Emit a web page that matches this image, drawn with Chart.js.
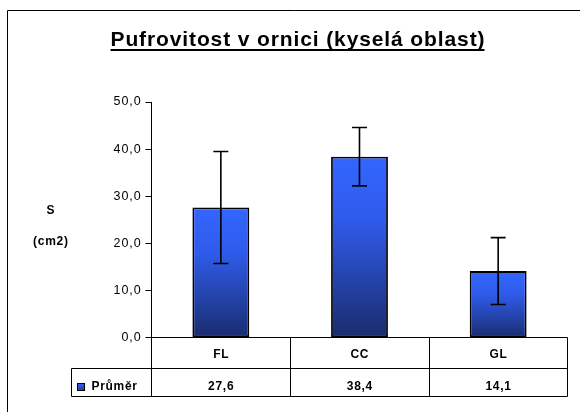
<!DOCTYPE html>
<html>
<head>
<meta charset="utf-8">
<script src="https://cdn.jsdelivr.net/npm/chart.js@4.4.1/dist/chart.umd.min.js"></script>
<style>
  html, body { margin: 0; padding: 0; background: #fff; }
  #wrap { width: 580px; height: 412px; position: relative; }
</style>
</head>
<body>
<div id="wrap"><canvas id="c" width="580" height="412"></canvas></div>
<script>
const titleText = "Pufrovitost v ornici (kyselá oblast)";
const yTitleLines = ["S", "(cm2)"];
const categories = ["FL", "CC", "GL"];
const seriesName = "Průměr";
const means = [27.6, 38.4, 14.1];
const errPlus = [11.9, 6.2, 7.1];
const errMinus = [11.9, 6.2, 7.1];
const yTicks = [0, 10, 20, 30, 40, 50];

const FONT = "'Liberation Sans', Arial, sans-serif";
const fmt = v => v.toFixed(1).replace('.', ',');

function setLS(ctx, v) { try { ctx.letterSpacing = v + 'px'; } catch (e) {} }

const spacing = {
  id: 'spacing',
  beforeDraw(chart) { setLS(chart.ctx, 0.9); }
};

const decor = {
  id: 'decor',
  afterDraw(chart) {
    const ctx = chart.ctx;
    const x = chart.scales.x, y = chart.scales.y;
    const area = chart.chartArea;
    ctx.save();
    // outer frame
    ctx.strokeStyle = '#000';
    ctx.lineWidth = 1;
    ctx.beginPath();
    ctx.moveTo(7.5, 420); ctx.lineTo(7.5, 10.5); ctx.lineTo(590, 10.5);
    ctx.stroke();

    // title
    ctx.font = "bold 21px " + FONT;
    ctx.fillStyle = '#000';
    ctx.textBaseline = 'alphabetic';
    ctx.textAlign = 'left';
    setLS(ctx, 0);
    const targetW = 374;
    const w0 = ctx.measureText(titleText).width;
    const ls = (targetW - w0) / (titleText.length - 1);
    setLS(ctx, ls);
    const tx = 110.5;
    ctx.fillText(titleText, tx, 45.7);
    setLS(ctx, 0);
    ctx.lineWidth = 2;
    ctx.beginPath();
    ctx.moveTo(tx, 50); ctx.lineTo(tx + targetW, 50);
    ctx.stroke();

    const LS = 0.7;
    ctx.font = "bold 12px " + FONT;
    ctx.textAlign = 'left';
    ctx.textBaseline = 'middle';
    setLS(ctx, LS);
    const centered = (t, cx, ty) => {
      const w = ctx.measureText(t).width - LS;
      ctx.fillText(t, cx - w / 2, ty);
    };

    // y axis title (horizontal)
    centered(yTitleLines[0], 50.5, 211);
    centered(yTitleLines[1], 50.5, 242);

    // error bars
    const meta = chart.getDatasetMeta(0);
    ctx.lineWidth = 1.6;
    ctx.strokeStyle = '#000';
    meta.data.forEach((bar, i) => {
      const cx = bar.x;
      const yHi = y.getPixelForValue(means[i] + errPlus[i]);
      const yLo = y.getPixelForValue(means[i] - errMinus[i]);
      const cap = 7.5;
      ctx.beginPath();
      ctx.moveTo(cx, yHi); ctx.lineTo(cx, yLo);
      ctx.moveTo(cx - cap, yHi); ctx.lineTo(cx + cap, yHi);
      ctx.moveTo(cx - cap, yLo); ctx.lineTo(cx + cap, yLo);
      ctx.stroke();
    });

    // data table
    const y0 = y.getPixelForValue(0);
    const rowMid = 368.5, rowBot = 396.5;
    const legLeft = 71.5;
    ctx.lineWidth = 1;
    ctx.strokeStyle = '#000';
    ctx.beginPath();
    ctx.moveTo(area.left, y0); ctx.lineTo(area.right, y0);
    ctx.moveTo(legLeft, rowMid); ctx.lineTo(area.right, rowMid);
    ctx.moveTo(legLeft, rowBot); ctx.lineTo(area.right, rowBot);
    ctx.moveTo(legLeft, rowMid); ctx.lineTo(legLeft, rowBot);
    ctx.moveTo(area.left, y0); ctx.lineTo(area.left, rowBot);
    ctx.moveTo(area.right, y0); ctx.lineTo(area.right, rowBot);
    const n = categories.length;
    for (let i = 1; i < n; i++) {
      const bx = Math.round((x.getPixelForValue(i - 1) + x.getPixelForValue(i)) / 2) + 0.5;
      ctx.moveTo(bx, y0); ctx.lineTo(bx, rowBot);
    }
    ctx.stroke();

    categories.forEach((c, i) => {
      const cx = x.getPixelForValue(i);
      centered(c, cx, 355);
      centered(fmt(means[i]), cx, 387);
    });

    // legend key
    const g = ctx.createLinearGradient(0, 383, 0, 391);
    g.addColorStop(0, '#3366ff');
    g.addColorStop(1, '#1f3a9a');
    ctx.fillStyle = g;
    ctx.fillRect(77.5, 383.5, 7, 7);
    ctx.strokeStyle = '#000';
    ctx.lineWidth = 1;
    ctx.strokeRect(77.5, 383.5, 7, 7);
    ctx.fillStyle = '#000';
    ctx.fillText(seriesName, 91.5, 387);
    ctx.restore();
  }
};

function barGradient(context) {
  const chart = context.chart;
  const y = chart.scales.y;
  if (!y || context.dataIndex === undefined) return '#2a55e0';
  const top = y.getPixelForValue(means[context.dataIndex]);
  const base = y.getPixelForValue(0);
  if (!isFinite(top) || !isFinite(base)) return '#2a55e0';
  const g = chart.ctx.createLinearGradient(0, top, 0, base);
  g.addColorStop(0, '#3366ff');
  g.addColorStop(0.35, '#2f5bea');
  g.addColorStop(1, '#1a2c6e');
  return g;
}

new Chart(document.getElementById('c'), {
  type: 'bar',
  data: {
    labels: categories,
    datasets: [{
      label: seriesName,
      data: means,
      backgroundColor: barGradient,
      borderColor: '#000',
      borderWidth: 1.8,
      borderSkipped: false,
      barPercentage: 0.41,
      categoryPercentage: 1.0
    }]
  },
  options: {
    responsive: false,
    animation: false,
    devicePixelRatio: 1,
    layout: { padding: { left: 0, right: 12.5, top: 102, bottom: 74.5 } },
    plugins: { legend: { display: false }, title: { display: false }, tooltip: { enabled: false } },
    scales: {
      x: {
        display: false,
        offset: true,
        grid: { display: false }
      },
      y: {
        min: 0, max: 50,
        afterFit: s => { s.width = 151.5; },
        afterBuildTicks: s => { s.ticks = yTicks.map(v => ({ value: v })); },
        ticks: {
          callback: v => fmt(v),
          color: '#000',
          font: { family: FONT, size: 12.5 },
          padding: 4
        },
        grid: { drawOnChartArea: false, drawTicks: true, tickLength: 6, tickColor: '#000', lineWidth: 1 },
        border: { display: true, color: '#000', width: 1 }
      }
    }
  },
  plugins: [spacing, decor]
});
</script>
</body>
</html>
